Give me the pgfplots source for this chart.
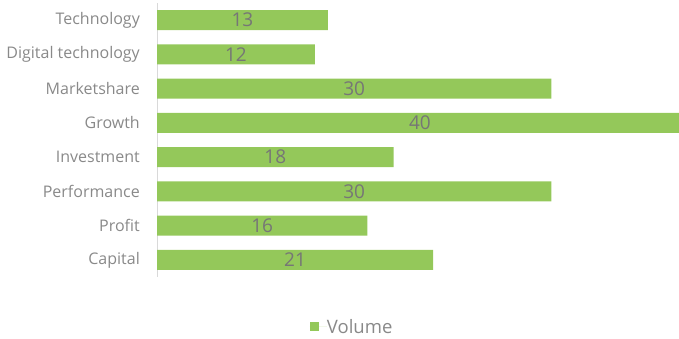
\documentclass[border=0pt]{standalone}
\usepackage{pgfplots}
\pgfplotsset{compat=1.18}
\usepackage{fontspec}
\setmainfont{Open Sans}
\definecolor{bargreen}{RGB}{148,200,90}
\definecolor{labgray}{RGB}{137,137,137}
\definecolor{valgray}{RGB}{118,118,118}
\definecolor{axgray}{RGB}{217,217,217}
\begin{document}
\begin{tikzpicture}
\useasboundingbox (0,0) rectangle (679bp,339bp);
\begin{axis}[
  at={(157bp,62bp)}, anchor=south west,
  scale only axis, width=522bp, height=274bp,
  xmin=0, xmax=39.7, ymin=-0.5, ymax=7.5, y dir=reverse,
  axis x line=none, axis y line*=left,
  y axis line style={draw=axgray, line width=0.75bp, -},
  ytick={0,1,2,3,4,5,6,7},
  yticklabels={Technology,Digital technology,Marketshare,Growth,Investment,Performance,Profit,Capital},
  major tick length=0pt,
  yticklabel style={font=\fontsize{16bp}{19bp}\selectfont, text=labgray, inner sep=0pt, xshift=-17bp},
  legend style={at={(0.372,-0.182)}, anchor=center, draw=none, fill=none,
    font=\fontsize{18.5bp}{22bp}\selectfont, text=labgray, inner sep=0pt,
    nodes={inner sep=0pt, text depth=0pt}},
  legend cell align=left,
]
\addplot[xbar, bar width=20bp, fill=bargreen, draw=none,
  legend image code/.code={\path (0bp,0bp) -- (17bp,0bp); \fill[bargreen] (0bp,-4.5bp) rectangle (9bp,4.5bp);}]
  coordinates {(13,0) (12,1) (30,2) (40,3) (18,4) (30,5) (16,6) (21,7)};
\addlegendentry{Volume}
\addplot[draw=none, mark=none, forget plot, nodes near coords, point meta=explicit symbolic,
  nodes near coords style={anchor=center, text=valgray, font=\fontsize{19bp}{22bp}\selectfont, inner sep=0pt}]
  coordinates {(6.5,0) [13] (6,1) [12] (15,2) [30] (20,3) [40] (9,4) [18] (15,5) [30] (8,6) [16] (10.5,7) [21]};
\end{axis}
\end{tikzpicture}
\end{document}
